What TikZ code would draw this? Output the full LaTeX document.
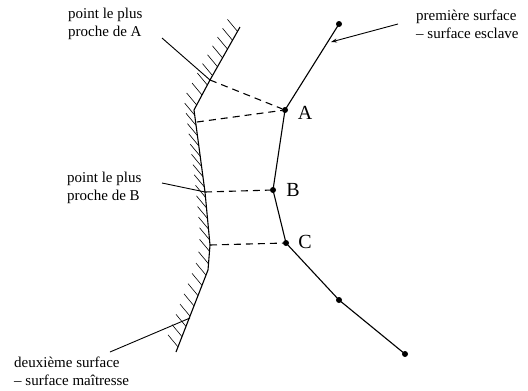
\documentclass[tikz,border=0pt]{standalone}
\usepackage{fontspec}
\setmainfont{Liberation Serif}
\usetikzlibrary{calc,arrows.meta}
\begin{document}
\begin{tikzpicture}[x=1pt,y=-1pt,
  surf/.style={line width=1.1pt},
  hatchline/.style={line width=0.6pt},
  proj/.style={line width=1.1pt, dash pattern=on 7pt off 5pt},
  lead/.style={line width=0.9pt},
  lab/.style={font=\fontsize{15}{18}\selectfont, align=left, inner sep=0pt, anchor=west},
  pt/.style={circle, fill, inner sep=0pt, minimum size=6pt},
  letter/.style={font=\fontsize{20}{20}\selectfont, inner sep=0pt}]
\useasboundingbox (0,0) rectangle (528,391);
% master surface points
\coordinate (m1) at (240,27);
\coordinate (m2) at (210,80);
\coordinate (m3) at (194,110);
\coordinate (m4) at (205,192);
\coordinate (m5) at (210,245);
\coordinate (m6) at (208,270);
\coordinate (m7) at (176,352);
\coordinate (mq) at (197,122);
\coordinate (mr) at (190,318);
% slave surface nodes
\node[pt] (s0) at (339,24) {};
\node[pt] (A) at (285,110) {};
\node[pt] (B) at (273,190) {};
\node[pt] (C) at (286,243) {};
\node[pt] (s4) at (339,300) {};
\node[pt] (s5) at (405,354) {};
\node[letter] (lA) at (305,113) {A};
\node[letter] (lB) at (293,190) {B};
\node[letter] (lC) at (305,242) {C};
% surfaces
\draw[surf] (m1) -- (m2) -- (m3) -- (m4) -- (m5) -- (m6) -- (m7);
\draw[surf] (s0.center) -- (A.center) -- (B.center) -- (C.center) -- (s4.center) -- (s5.center);
% hatching
\foreach \p/\q/\n in {m1/m2/6, m2/m3/3, m3/m4/8, m4/m5/5, m5/m6/2, m6/m7/8}{
  \foreach \i in {1,...,\n}{
    \draw[hatchline] ($(\p)!{(\i-0.5)/\n}!(\q)$) -- ++(-10,-12);
  }
}
% projections
\draw[proj] (m2) -- (A);
\draw[proj] (mq) -- (A);
\draw[proj] (m4) -- (B);
\draw[proj] (m5) -- (C);
% labels
\node[lab] (tA) at (68,24) {point le plus\\proche de A};
\node[lab] (tB) at (67,188) {point le plus\\proche de B};
\node[lab] (tS) at (416,24) {première surface\\– surface esclave};
\node[lab] (tM) at (14,371) {deuxième surface\\– surface maîtresse};
\coordinate (cA) at (162,38);
\coordinate (cB) at (162,183);
\coordinate (cS) at (398,24);
\coordinate (cM) at (110,352);
\coordinate (aS) at (331,42);
\draw[lead] (cA) -- (m2);
\draw[lead] (cB) -- (m4);
\draw[lead,-{Stealth[length=6pt,width=4pt]}] (cS) -- (aS);
\draw[lead] (cM) -- (mr);
\end{tikzpicture}
\end{document}
